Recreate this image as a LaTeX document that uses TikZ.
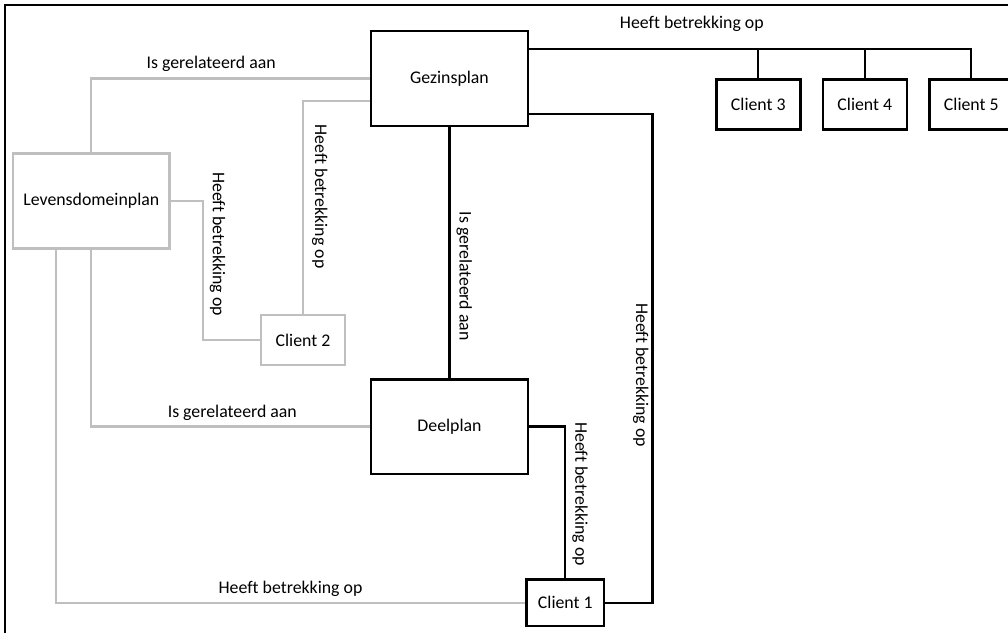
\documentclass[tikz,border=0pt]{standalone}
\usepackage{fontspec}
\setmainfont{Carlito}[Ligatures={NoCommon,NoRequired,NoContextual,NoRare},RawFeature={-calt}]
\usetikzlibrary{positioning}
\usepackage{xcolor}
\definecolor{plgrey}{HTML}{BFBFBF}

\begin{document}
\begin{tikzpicture}[
  x=1pt,y=1pt,
  font=\fontsize{17.8}{21}\selectfont,
  plan/.style={draw,line width=2.5pt,fill=white,minimum width=156.6pt,minimum height=94.6pt,inner sep=0pt},
  client/.style={draw,line width=2.5pt,fill=white,minimum width=84pt,minimum height=50pt,inner sep=0pt},
  soft/.style={draw=plgrey},
  link/.style={line width=2.3pt},
  lbl/.style={inner sep=0pt,anchor=south,outer sep=7pt},
  vlbl/.style={inner sep=0pt,rotate=-90,anchor=south,outer sep=7pt},
  vlblL/.style={inner sep=0pt,rotate=-90,anchor=north,outer sep=4pt}]
\useasboundingbox (0,0) rectangle (1008,632);
\clip (0,0) rectangle (1008,632);
\draw[line width=2.5pt] (5,-20) rectangle (1030,627);

\node[plan] (gezin) at (449.5,553.5) {Gezinsplan};
\node[plan,below=251pt of gezin] (deel) {Deelplan};
\node[plan,soft] (levens) at (91.3,431) {Levensdomeinplan};
\node[client,soft] (client2) at (303,292) {Client 2};
\node[client,minimum width=77.6pt,minimum height=46.6pt] (client1) at (565.3,29.2) {Client 1};
\node[client] (client3) at (758.3,527.6) {Client 3};
\node[client,right=20pt of client3] (client4) {Client 4};
\node[client,right=20pt of client4] (client5) {Client 5};

\coordinate (bus) at ([yshift=29.5pt]gezin.east);
\draw[link] (bus) -| node[pos=0.184,lbl,outer sep=17pt]{Heeft betrekking op} (client5.north);
\draw[link] (bus) -| (client3.north);
\draw[link] (bus) -| (client4.north);
\draw[link] ([yshift=-35.8pt]gezin.east) -- ++(123.5,0) |- node[pos=0.267,vlblL]{Heeft betrekking op} (client1.east);
\draw[link] (gezin) -- node[pos=0.594,vlbl]{Is gerelateerd aan} (deel);
\draw[link] (deel.east) -| node[pos=0.722,vlbl]{Heeft betrekking op} (client1.north);

\draw[link,plgrey] (gezin.west) -| node[pos=0.285,lbl,text=black]{Is gerelateerd aan} (levens.north);
\draw[link,plgrey] ([yshift=-22.2pt]gezin.west) -| node[pos=0.725,vlbl,outer sep=9pt,text=black]{Heeft betrekking op} (client2.north);
\draw[link,plgrey] (levens.east) -- ++(32,0) |- node[pos=0.155,vlbl,text=black]{Heeft betrekking op} (client2.west);
\draw[link,plgrey] (levens.south) |- node[pos=0.753,lbl,outer sep=6pt,text=black]{Is gerelateerd aan} (deel.west);
\draw[link,plgrey] ([xshift=-35.6pt]levens.south) |- node[pos=0.75,lbl,outer sep=6pt,text=black]{Heeft betrekking op} (client1.west);
\end{tikzpicture}
\end{document}
